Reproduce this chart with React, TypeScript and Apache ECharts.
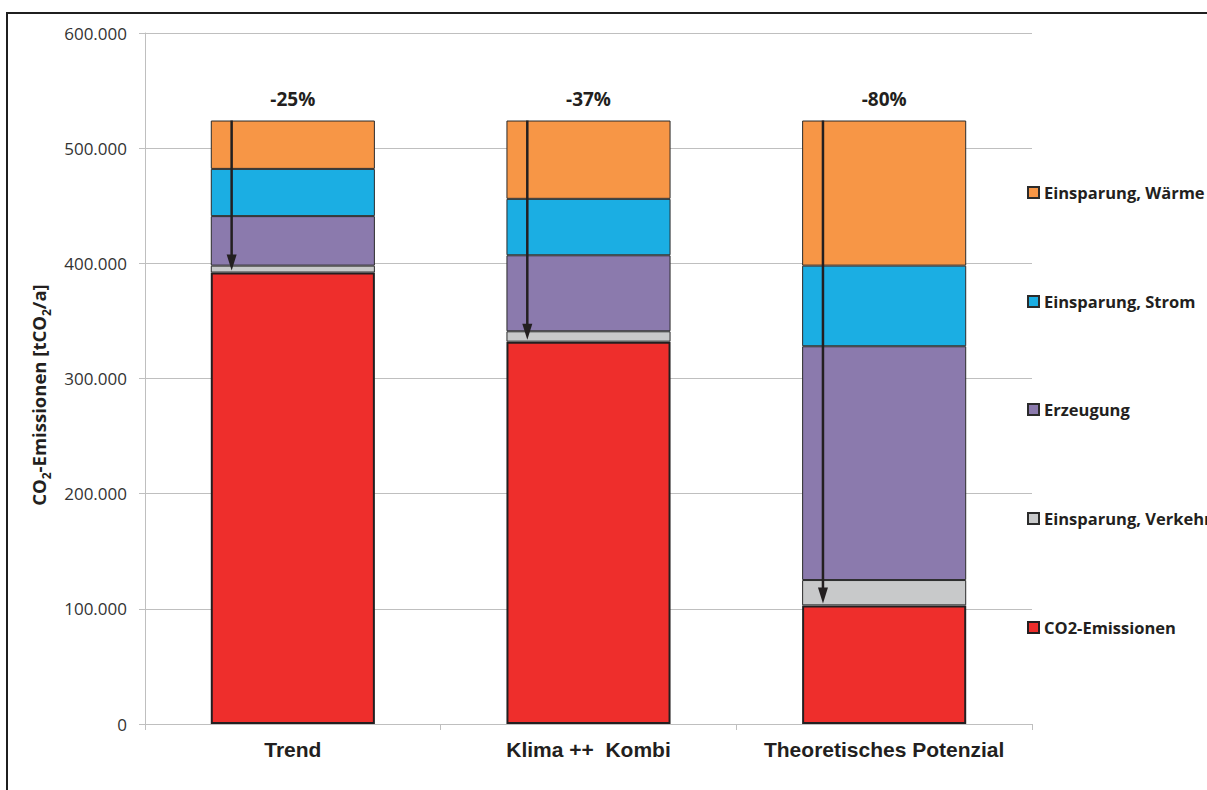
import React, { useEffect, useRef } from "react";
import * as echarts from "echarts";

const categories = ["Trend", "Klima ++  Kombi", "Theoretisches Potenzial"];
const reductionLabels = ["-25%", "-37%", "-80%"];

const co2Emissionen = [392000, 332000, 103000];
const einsparungVerkehr = [6000, 9000, 22000];
const erzeugung = [43000, 66000, 203000];
const einsparungStrom = [41000, 49000, 70000];
const einsparungWaerme = [42000, 68000, 126000];

const yTicks = [0, 100000, 200000, 300000, 400000, 500000, 600000];

const seriesNames = [
  "CO2-Emissionen",
  "Einsparung, Verkehr",
  "Erzeugung",
  "Einsparung, Strom",
  "Einsparung, Wärme",
];
const legendOrder = [
  "Einsparung, Wärme",
  "Einsparung, Strom",
  "Erzeugung",
  "Einsparung, Verkehr",
  "CO2-Emissionen",
];

const COLORS: Record<string, string> = {
  "CO2-Emissionen": "#EE2E2C",
  "Einsparung, Verkehr": "#C8C9CA",
  "Erzeugung": "#8B7AAD",
  "Einsparung, Strom": "#1BAEE3",
  "Einsparung, Wärme": "#F79646",
};

const legendCenters = [194, 303, 411, 520, 629];

function fmt(v: number): string {
  if (v === 0) return "0";
  const s = String(Math.round(v));
  return s.replace(/\B(?=(\d{3})+(?!\d))/g, ".");
}

export default function App() {
  const ref = useRef<HTMLDivElement>(null);

  useEffect(() => {
    if (!ref.current) return;
    const chart = echarts.init(ref.current, undefined, { renderer: "svg" });
    const dataSets = [co2Emissionen, einsparungVerkehr, erzeugung, einsparungStrom, einsparungWaerme];
    const totals = categories.map((_, i) => dataSets.reduce((a, arr) => a + arr[i], 0));
    const arrowData = categories.map((_, i) => [i, totals[i], co2Emissionen[i]]);

    const barSeries = seriesNames.map((name, k) => ({
      name,
      type: "bar",
      stack: "total",
      barWidth: "55.5%",
      data: dataSets[k],
      itemStyle: {
        color: COLORS[name],
        borderColor: k === 0 ? "#231F20" : "#2b2b2b",
        borderWidth: k === 0 ? 2 : 1,
      },
      emphasis: { disabled: true },
    }));

    const arrowSeries = {
      type: "custom",
      name: "arrows",
      data: arrowData,
      encode: { x: 0, y: 1 },
      z: 10,
      silent: true,
      renderItem: (params: any, api: any) => {
        const idx = api.value(0);
        const top = api.coord([idx, api.value(1)]);
        const bot = api.coord([idx, api.value(2)]);
        const band = api.size([1, 0])[0];
        const x = top[0] - band * 0.207;
        const tipY = bot[1] - 2;
        const headH = 16;
        const headW = 10;
        return {
          type: "group",
          children: [
            {
              type: "line",
              shape: { x1: x, y1: top[1], x2: x, y2: tipY - headH + 2 },
              style: { stroke: "#231F20", lineWidth: 2.5 },
            },
            {
              type: "polygon",
              shape: {
                points: [
                  [x - headW / 2, tipY - headH],
                  [x + headW / 2, tipY - headH],
                  [x, tipY],
                ],
              },
              style: { fill: "#231F20" },
            },
            {
              type: "text",
              x: top[0],
              y: top[1] - 22,
              style: {
                text: reductionLabels[params.dataIndex],
                fontFamily: "Open Sans",
                fontWeight: "bold",
                fontSize: 19,
                fill: "#231F20",
                align: "center",
                verticalAlign: "middle",
              },
            },
          ],
        };
      },
    };

    const legends = legendOrder.map((name, i) => ({
      data: [name],
      left: 1027,
      top: legendCenters[i] - 10,
      orient: "vertical",
      padding: 0,
      itemWidth: 11,
      itemHeight: 11,
      icon: "rect",
      selectedMode: false,
      textStyle: {
        fontFamily: "Open Sans",
        fontWeight: "bold",
        fontSize: 16.5,
        color: "#231F20",
      },
    }));

    chart.setOption({
      animation: false,
      backgroundColor: "#ffffff",
      grid: { left: 145, right: 175, top: 33, bottom: 66, containLabel: false },
      legend: legends,
      xAxis: {
        type: "category",
        data: categories,
        axisLine: { show: true, lineStyle: { color: "#BFBFBF", width: 1 } },
        axisTick: { show: true, alignWithLabel: false, length: 6, lineStyle: { color: "#BFBFBF" } },
        axisLabel: {
          interval: 0,
          fontFamily: "Liberation Sans",
          fontWeight: "bold",
          fontSize: 21,
          color: "#231F20",
          margin: 15,
        },
      },
      yAxis: {
        type: "value",
        min: yTicks[0],
        max: yTicks[yTicks.length - 1],
        interval: yTicks[1] - yTicks[0],
        axisLine: { show: true, lineStyle: { color: "#BFBFBF", width: 1 } },
        axisTick: { show: true, length: 6, lineStyle: { color: "#BFBFBF" } },
        splitLine: { show: true, lineStyle: { color: "#BFBFBF", width: 1 } },
        axisLabel: {
          fontFamily: "Open Sans",
          fontSize: 17,
          color: "#333333",
          margin: 18,
          formatter: (v: number) => fmt(v),
        },
      },
      graphic: [
        {
          type: "text",
          x: 38,
          y: 395,
          rotation: Math.PI / 2,
          style: {
            text: "{n|CO}{s|2}{n|-Emissionen [tCO}{s|2}{n|/a]}",
            align: "center",
            verticalAlign: "middle",
            rich: {
              n: {
                fontFamily: "Open Sans",
                fontWeight: "bold",
                fontSize: 18.5,
                lineHeight: 28,
                fill: "#231F20",
                color: "#231F20",
              },
              s: {
                fontFamily: "Open Sans",
                fontWeight: "bold",
                fontSize: 12,
                lineHeight: 28,
                verticalAlign: "bottom",
                fill: "#231F20",
                color: "#231F20",
              },
            },
          },
        },
      ],
      series: [...barSeries, arrowSeries],
    });

    return () => chart.dispose();
  }, []);

  return (
    <div
      style={{
        position: "fixed",
        left: 0,
        top: 0,
        width: 1207,
        height: 790,
        overflow: "hidden",
        background: "#fff",
      }}
    >
      <div ref={ref} style={{ position: "absolute", left: 0, top: 0, width: 1207, height: 790 }} />
      <div
        style={{
          position: "absolute",
          left: 6,
          top: 12,
          width: 1400,
          height: 1000,
          border: "2px solid #1f1f1f",
          pointerEvents: "none",
        }}
      />
    </div>
  );
}
